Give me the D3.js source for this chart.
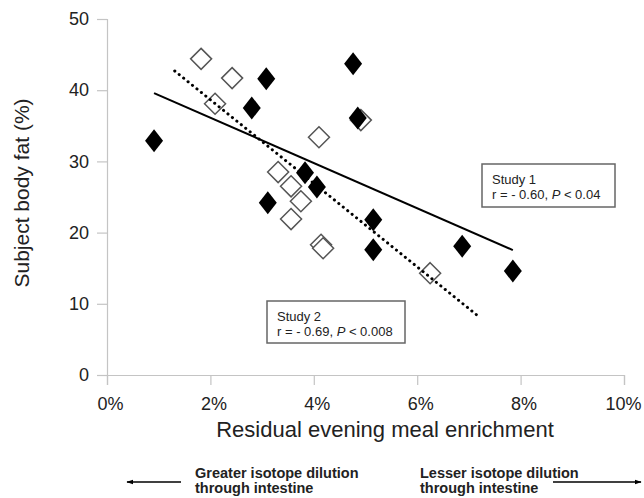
<!DOCTYPE html>
<html>
<head>
<meta charset="utf-8">
<script src="https://cdn.jsdelivr.net/npm/d3@7"></script>
<style>
  body { margin: 0; background: #fff; }
  svg { font-family: "Liberation Sans", Arial, sans-serif; }
</style>
</head>
<body>
<div id="chart"></div>
<script>
var width = 644,
    height = 498;

// Study 1 (filled diamonds): residual enrichment (fraction), body fat (%)
var study1X = [0.0091, 0.0308, 0.0280, 0.0476, 0.0485, 0.0383, 0.0406, 0.0311, 0.0515, 0.0515, 0.0687, 0.0785];
var study1Y = [32.9, 41.6, 37.5, 43.7, 36.1, 28.4, 26.4, 24.2, 21.8, 17.6, 18.1, 14.6];

// Study 2 (open diamonds)
var study2X = [0.0182, 0.0242, 0.0209, 0.0410, 0.0331, 0.0356, 0.0375, 0.0356, 0.0414, 0.0418, 0.0625, 0.0491];
var study2Y = [44.4, 41.7, 38.1, 33.4, 28.5, 26.5, 24.4, 21.9, 18.3, 17.8, 14.3, 35.8];

// fitted lines, end points
var fit1X = [0.0091, 0.0785], fit1Y = [39.6, 17.55];
var fit2X = [0.0131, 0.0720], fit2Y = [42.7, 8.15];

var xTicks = [0, 0.02, 0.04, 0.06, 0.08, 0.10];
var yTicks = [0, 10, 20, 30, 40, 50];

var svg = d3.select('#chart').append('svg')
    .attr('width', width)
    .attr('height', height);

var x = d3.scaleLinear().domain([0, 0.10]).range([107, 624]),
    y = d3.scaleLinear().domain([0, 50]).range([375, 19]);

function diamond(cx, cy, w, h) {
    return 'M' + cx + ',' + (cy - h) + 'L' + (cx + w) + ',' + cy +
        'L' + cx + ',' + (cy + h) + 'L' + (cx - w) + ',' + cy + 'Z';
}

// axes
var yAxis = svg.append('g')
    .attr('transform', 'translate(' + x(0) + ',0)')
    .call(d3.axisLeft(y).tickValues(yTicks).tickSize(10).tickPadding(8));
var xAxis = svg.append('g')
    .attr('transform', 'translate(0,' + y(0) + ')')
    .call(d3.axisBottom(x).tickValues(xTicks).tickSize(10).tickPadding(12)
        .tickFormat(d3.format('.0%')));
[xAxis, yAxis].forEach(function(a) {
    a.selectAll('path, line').attr('stroke', '#c4c4c4').attr('stroke-width', 1.2);
    a.selectAll('text')
        .attr('fill', '#222')
        .style('font-size', '18px')
        .style('font-family', '"Liberation Sans", Arial, sans-serif');
});
xAxis.selectAll('text').attr('dx', function(d) { return d < 0.1 ? 3 : -1; });

// open diamonds
svg.append('g').selectAll('path')
    .data(study2X)
    .enter().append('path')
    .attr('d', function(d, i) { return diamond(x(d), y(study2Y[i]), 10.5, 10.5); })
    .attr('fill', '#fff')
    .attr('stroke', '#555')
    .attr('stroke-width', 1.5);

// regression lines
var line = d3.line()
    .x(function(d) { return x(d[0]); })
    .y(function(d) { return y(d[1]); });
svg.append('path')
    .attr('d', line(fit1X.map(function(d, i) { return [d, fit1Y[i]]; })))
    .attr('stroke', '#000')
    .attr('stroke-width', 2)
    .attr('fill', 'none');
svg.append('path')
    .attr('d', line(fit2X.map(function(d, i) { return [d, fit2Y[i]]; })))
    .attr('stroke', '#000')
    .attr('stroke-width', 3)
    .attr('stroke-linecap', 'round')
    .attr('stroke-dasharray', '0.1,5.6')
    .attr('fill', 'none');

// filled diamonds
svg.append('g').selectAll('path')
    .data(study1X)
    .enter().append('path')
    .attr('d', function(d, i) { return diamond(x(d), y(study1Y[i]), 9, 11.5); })
    .attr('fill', '#000');

// annotation boxes
function statBox(bx, by, bw, bh, title, rval, pval) {
    var g = svg.append('g');
    g.append('rect')
        .attr('x', bx).attr('y', by)
        .attr('width', bw).attr('height', bh)
        .attr('fill', '#fff')
        .attr('stroke', '#666')
        .attr('stroke-width', 1.5);
    g.append('text')
        .attr('x', bx + 10).attr('y', by + 20)
        .style('font-size', '13px').attr('fill', '#222')
        .text(title);
    var t = g.append('text')
        .attr('x', bx + 10).attr('y', by + 35)
        .style('font-size', '13px').attr('fill', '#222');
    t.append('tspan').text('r = - ' + rval + ', ');
    t.append('tspan').style('font-style', 'italic').text('P');
    t.append('tspan').text(' < ' + pval);
}
statBox(482, 164, 133, 43, 'Study 1', '0.60', '0.04');
statBox(267, 301, 138, 42, 'Study 2', '0.69', '0.008');

// axis titles
svg.append('text')
    .attr('x', 385).attr('y', 437)
    .attr('text-anchor', 'middle')
    .style('font-size', '22px')
    .attr('fill', '#222')
    .text('Residual evening meal enrichment');
svg.append('text')
    .attr('transform', 'translate(29,193) rotate(-90)')
    .attr('text-anchor', 'middle')
    .style('font-size', '21px')
    .attr('fill', '#222')
    .text('Subject body fat (%)');

// bottom direction notes
var defs = svg.append('defs');
defs.append('marker')
    .attr('id', 'head')
    .attr('viewBox', '0 0 10 10')
    .attr('refX', 9).attr('refY', 5)
    .attr('markerWidth', 7).attr('markerHeight', 7)
    .attr('orient', 'auto-start-reverse')
    .attr('markerUnits', 'userSpaceOnUse')
    .append('path')
    .attr('d', 'M0,1.5L10,5L0,8.5Z')
    .attr('fill', '#000');

svg.append('line')
    .attr('x1', 181).attr('x2', 127)
    .attr('y1', 482).attr('y2', 482)
    .attr('stroke', '#000').attr('stroke-width', 1.5)
    .attr('marker-end', 'url(#head)');
svg.append('line')
    .attr('x1', 553).attr('x2', 641)
    .attr('y1', 482).attr('y2', 482)
    .attr('stroke', '#000').attr('stroke-width', 1.5)
    .attr('marker-end', 'url(#head)');

var notes = [
    {x: 195, lines: ['Greater isotope dilution', 'through intestine']},
    {x: 420, lines: ['Lesser isotope dilution', 'through intestine']}
];
notes.forEach(function(n) {
    svg.append('text')
        .attr('x', n.x).attr('y', 478)
        .style('font-size', '14.5px').style('font-weight', 'bold')
        .attr('fill', '#222')
        .selectAll('tspan')
        .data(n.lines)
        .enter().append('tspan')
        .attr('x', n.x)
        .attr('dy', function(d, i) { return i ? 15 : 0; })
        .text(function(d) { return d; });
});
</script>
</body>
</html>
